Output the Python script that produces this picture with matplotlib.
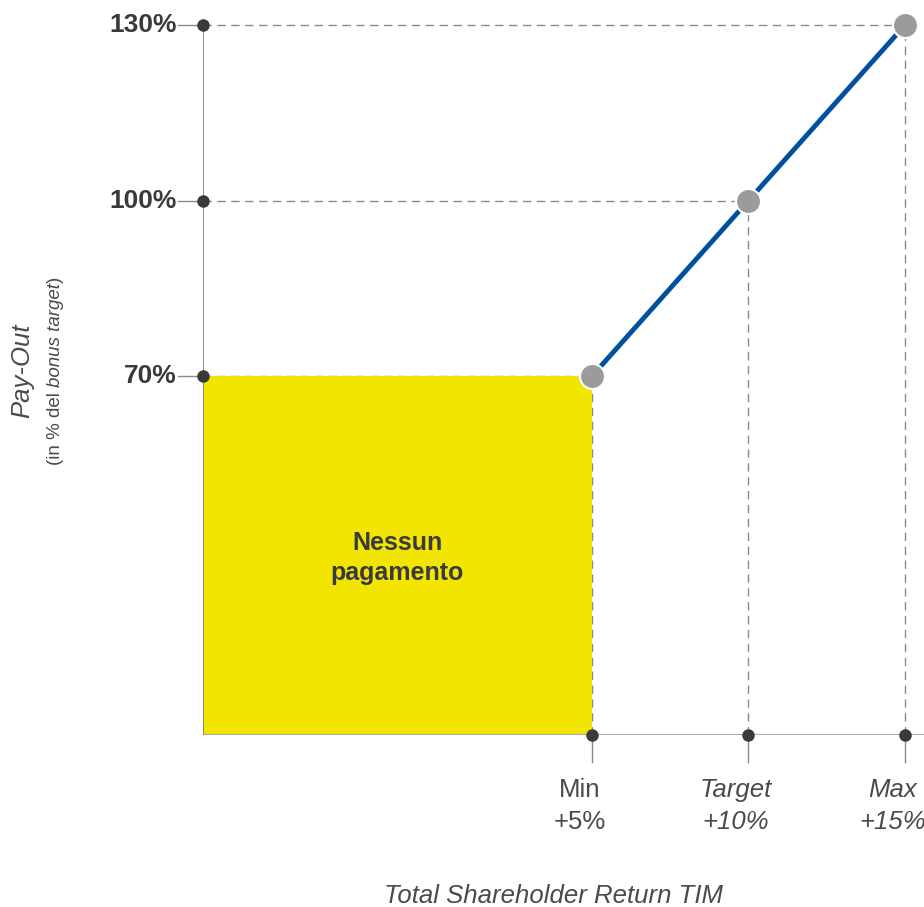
import matplotlib
matplotlib.use("Agg")
import matplotlib.pyplot as plt
from matplotlib.patches import FancyBboxPatch

plt.rcParams['font.family'] = ['Liberation Sans', 'DejaVu Sans']

# TSR thresholds (%) and corresponding pay-out levels (% of bonus target)
tsr_levels = [5, 10, 15]
payout_levels = [70, 100, 130]
tick_names = ["Min", "Target", "Max"]
tick_values = ["+5%", "+10%", "+15%"]
tick_italic = [False, True, True]
payout_labels = ["70%", "100%", "130%"]
no_pay_label = "Nessun\npagamento"
x_title = "Total Shareholder Return TIM"

DARK = "#3a3a3a"
AXIS = "#a8a8a8"
DASH = "#8a8a8a"
BLUE = "#0050a0"
YELLOW = "#f2e500"
POINT = "#9b9b9b"
TEXT = "#4a4a4a"

W, H = 924, 907
fig = plt.figure(figsize=(W / 100, H / 100), dpi=100)
ax = fig.add_axes([203 / W, (H - 735) / H, 1 - 203 / W, 735 / H])
ax.set_xlim(-7.43, 15.61)
ax.set_ylim(8.63, 134.3)
ax.set_axis_off()

x0, y0 = ax.get_xlim()[0], ax.get_ylim()[0]
xmax = ax.get_xlim()[1]

# no-payment area
ax.add_patch(FancyBboxPatch((x0, y0), tsr_levels[0] - x0, payout_levels[0] - y0,
                            boxstyle="round,pad=0,rounding_size=0.25",
                            mutation_aspect=5.85 / 31.3,
                            facecolor=YELLOW, edgecolor="none", zorder=2.5))
ax.text((x0 + tsr_levels[0]) / 2, 38.9, no_pay_label, ha="center", va="center",
        fontsize=18, fontweight="bold", color=DARK, linespacing=1.3, zorder=5)

# axes lines
ax.plot([x0, x0], [y0, payout_levels[-1]], color="#7a7a7a", lw=1.2, zorder=2.6,
        solid_capstyle="butt")
ax.plot([x0, xmax], [y0, y0], color=AXIS, lw=2.2, zorder=2.6, solid_capstyle="butt")

# dashed guides
for xv, yv in zip(tsr_levels, payout_levels):
    ax.plot([x0, xv], [yv, yv], color=DASH, lw=1.0, ls=(0, (6, 4)), zorder=2)
    ax.plot([xv, xv], [y0, yv], color=DASH, lw=1.0, ls=(0, (6, 4)), zorder=2)

# tick stubs and markers
tick_len_x = 25 / 31.3
tick_len_y = 27 / 5.85
for yv, lab in zip(payout_levels, payout_labels):
    ax.plot([x0 - tick_len_x, x0], [yv, yv], color="#8a8a8a", lw=1.0,
            clip_on=False, zorder=2)
    ax.plot([x0], [yv], "o", ms=9, color=DARK, mec="none", clip_on=False, zorder=4)
    ax.text(x0 - tick_len_x - 0.05, yv, lab, ha="right", va="center",
            fontsize=19, fontweight="bold", color=DARK)

for xv, nm, val, it in zip(tsr_levels, tick_names, tick_values, tick_italic):
    ax.plot([xv, xv], [y0 - tick_len_y, y0], color="#8a8a8a", lw=1.0,
            clip_on=False, zorder=2)
    ax.plot([xv], [y0], "o", ms=9, color=DARK, mec="none", clip_on=False, zorder=4)
    ax.text(xv - 0.4, y0 - 12.1, nm + "\n" + val, ha="center", va="center",
            fontsize=18.5, color=TEXT, style="italic" if it else "normal",
            linespacing=1.42)

# pay-out curve
ax.plot(tsr_levels, payout_levels, color=BLUE, lw=3.5, zorder=3,
        solid_capstyle="butt")
ax.plot(tsr_levels, payout_levels, "o", ms=18, color=POINT, mec="white",
        mew=1.5, clip_on=False, zorder=6)

# axis titles
fig.text(553 / W, 1 - 896 / H, x_title, ha="center", va="center",
         fontsize=18.5, style="italic", color=TEXT)

fig.text(22 / W, 1 - 371 / H, "Pay-Out", ha="center", va="center", rotation=90,
         fontsize=18.5, style="italic", color=TEXT)

# subtitle with mixed styles, laid out piece by piece along the baseline
pieces = [("(in % del ", "normal"), ("bonus target", "italic"), (")", "normal")]
renderer = fig.canvas.get_renderer()
total = 0
texts = []
for s, st in pieces:
    t = fig.text(0, 0, s, fontsize=13.5, style=st, color=TEXT, rotation=90,
                 rotation_mode="anchor", ha="left", va="baseline")
    texts.append(t)
    total += t.get_window_extent(renderer).height
y_cur = H - (371 + total / 2)
for t in texts:
    t.set_position((60 / W, y_cur / H))
    y_cur += t.get_window_extent(renderer).height

fig.savefig("out.png", dpi=100)
